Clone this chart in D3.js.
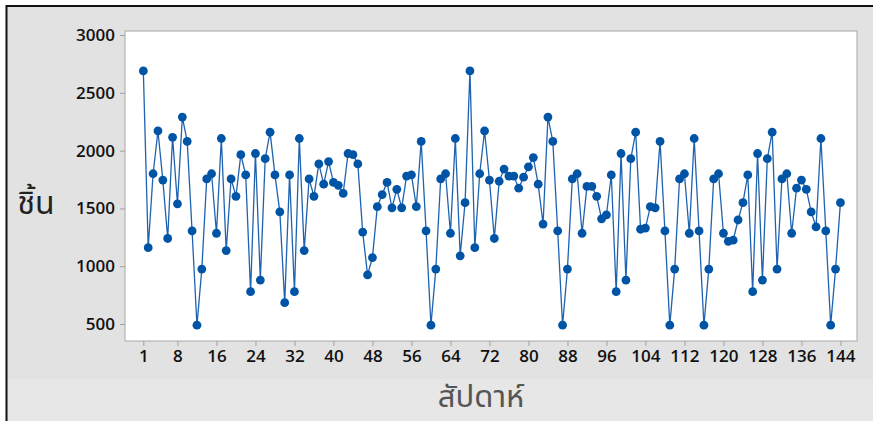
<!DOCTYPE html>
<html>
<head>
<meta charset="utf-8">
<script src="https://d3js.org/d3.v7.min.js"></script>
<style>
  body { margin: 0; background: #fff; }
</style>
</head>
<body>
<svg id="chart" width="873" height="421"></svg>
<script>
// weekly values (ชิ้น)
var weeks = d3.range(1, 145);
var values = [
  2690, 1160, 1800, 2170, 1745, 1240, 2115, 1540, 2290, 2080,
  1305,  490,  975, 1755, 1800, 1285, 2105, 1135, 1755, 1605,
  1965, 1790,  780, 1975,  880, 1930, 2160, 1790, 1470,  685,
  1790,  780, 2105, 1135, 1755, 1605, 1885, 1710, 1905, 1725,
  1700, 1630, 1975, 1965, 1885, 1295,  925, 1075, 1515, 1620,
  1725, 1505, 1665, 1505, 1780, 1790, 1515, 2080, 1305,  490,
   975, 1755, 1800, 1285, 2105, 1090, 1550, 2690, 1160, 1800,
  2170, 1745, 1240, 1735, 1840, 1780, 1780, 1675, 1770, 1860,
  1940, 1710, 1365, 2290, 2080, 1305,  490,  975, 1755, 1800,
  1285, 1690, 1690, 1605, 1410, 1445, 1790,  780, 1975,  880,
  1930, 2160, 1320, 1330, 1515, 1505, 2080, 1305,  490,  975,
  1755, 1800, 1285, 2105, 1305,  490,  975, 1755, 1800, 1285,
  1215, 1225, 1400, 1550, 1790,  780, 1975,  880, 1930, 2160,
   975, 1755, 1800, 1285, 1675, 1745, 1665, 1470, 1340, 2105,
  1305,  490,  975, 1550
];
var xTicks = [1, 8, 16, 24, 32, 40, 48, 56, 64, 72, 80, 88, 96, 104, 112, 120, 128, 136, 144];
var yTicks = [500, 1000, 1500, 2000, 2500, 3000];

var svg = d3.select("#chart");

// background panels and frame
svg.append("rect").attr("x", 7).attr("y", 7).attr("width", 866).attr("height", 372).attr("fill", "#e2e2e2");
svg.append("rect").attr("x", 7).attr("y", 379).attr("width", 866).attr("height", 42).attr("fill", "#e7e7e7");
svg.append("line").attr("x1", 6.5).attr("x2", 6.5).attr("y1", 5).attr("y2", 421).attr("stroke", "#111").attr("stroke-width", 2);
svg.append("line").attr("x1", 6).attr("x2", 873).attr("y1", 6).attr("y2", 6).attr("stroke", "#111").attr("stroke-width", 2);

// plot box (window.top is reserved, so use other names)
var pLeft = 125, pRight = 857, pTop = 31, pBottom = 341;

var x = d3.scaleLinear().domain([-2.76, 147.4]).range([pLeft, pRight]);
var y = d3.scaleLinear().domain([353, 3035]).range([pBottom, pTop]);

svg.append("rect")
  .attr("x", pLeft).attr("y", pTop)
  .attr("width", pRight - pLeft).attr("height", pBottom - pTop)
  .attr("fill", "#fff").attr("stroke", "#a8a8a8").attr("stroke-width", 1);

var font = "'Open Sans', 'Noto Sans', sans-serif";

var xAxis = svg.append("g")
  .attr("transform", "translate(0," + pBottom + ")")
  .call(d3.axisBottom(x).tickValues(xTicks).tickSize(5).tickPadding(4).tickFormat(d3.format("d")));
var yAxis = svg.append("g")
  .attr("transform", "translate(" + pLeft + ",0)")
  .call(d3.axisLeft(y).tickValues(yTicks).tickSize(5).tickPadding(5).tickFormat(d3.format("d")));

[xAxis, yAxis].forEach(function(a) {
  a.attr("font-size", null).attr("font-family", null);
  a.select(".domain").remove();
  a.selectAll(".tick line").attr("stroke", "#a0a0a0");
  a.selectAll(".tick text")
    .attr("fill", "#111")
    .style("font-family", font)
    .style("font-size", "17px")
    .style("font-weight", 600);
});

// series
var line = d3.line()
  .x(function(d, i) { return x(weeks[i]); })
  .y(function(d) { return y(d); });

svg.append("path")
  .datum(values)
  .attr("fill", "none")
  .attr("stroke", "#1f63b0")
  .attr("stroke-width", 1.3)
  .attr("d", line);

svg.selectAll("circle.pt")
  .data(values)
  .enter()
  .append("circle")
  .attr("class", "pt")
  .attr("cx", function(d, i) { return x(weeks[i]); })
  .attr("cy", function(d) { return y(d); })
  .attr("r", 4.4)
  .attr("fill", "#0054a6");

// axis titles
var thai = "'Noto Sans Thai', 'Noto Sans', 'DejaVu Sans', sans-serif";
svg.append("text")
  .attr("x", 36).attr("y", 214)
  .attr("text-anchor", "middle")
  .style("font-family", thai)
  .style("font-size", "32px")
  .attr("fill", "#222")
  .text("ชิ้น");
svg.append("text")
  .attr("x", 481).attr("y", 407)
  .attr("text-anchor", "middle")
  .style("font-family", thai)
  .style("font-size", "31px")
  .attr("fill", "#555")
  .text("สัปดาห์");
</script>
</body>
</html>
